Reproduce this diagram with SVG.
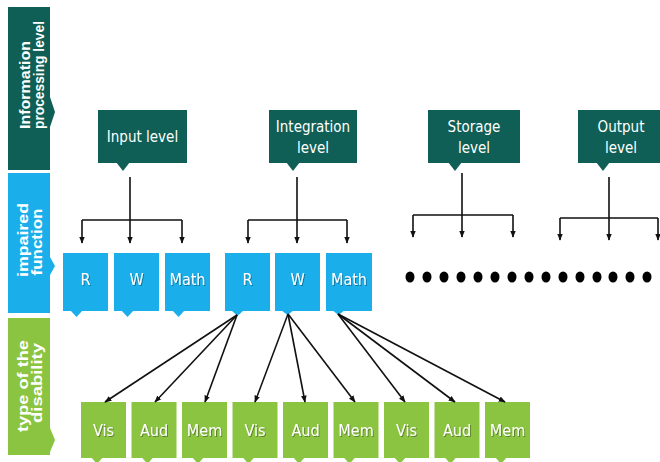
<svg xmlns="http://www.w3.org/2000/svg" width="660" height="462" viewBox="0 0 660 462">
<defs>
<marker id="ah" viewBox="0 0 10 10" refX="9" refY="5" markerWidth="7" markerHeight="7" markerUnits="userSpaceOnUse" orient="auto">
<path d="M0,1 L10,5 L0,9 Z" fill="#111"/>
</marker>
<filter id="sh" x="-20%" y="-20%" width="140%" height="140%">
<feDropShadow dx="1" dy="1" stdDeviation="0.6" flood-color="#000" flood-opacity="0.35"/>
</filter>
<style>
.teal{fill:#0f5f56}
.blue{fill:#1aafeb}
.green{fill:#8bc441}
.side{font-family:"Liberation Sans",Arial,sans-serif;font-weight:bold;font-size:15px;fill:#fff}
.lbl{font-family:"DejaVu Sans Condensed","DejaVu Sans",sans-serif;font-stretch:condensed;font-size:15px;fill:#fff;text-anchor:middle}
.big{font-size:16px}
.sl{filter:url(#sh)}
.con line,.con path{stroke:#111;stroke-width:1.6;fill:none}
.arr{marker-end:url(#ah)}
</style>
</defs>
<rect width="660" height="462" fill="#fff"/>

<!-- left side bars -->
<g id="bar-processing">
<path class="teal" d="M8,7 H50 V97 L55,112 L50,127 V170 H8 Z"/>
<text class="side" transform="translate(30,129) rotate(-90)" textLength="88" lengthAdjust="spacingAndGlyphs">Information</text>
<text class="side" transform="translate(44,129) rotate(-90)" textLength="108" lengthAdjust="spacingAndGlyphs">processing level</text>
</g>
<g id="bar-impaired">
<path class="blue" d="M8,173 H50 V257 L55,266 L50,275 V313 H8 Z"/>
<text class="side" text-anchor="middle" transform="translate(28,240) rotate(-90)" textLength="74" lengthAdjust="spacingAndGlyphs">impaired</text>
<text class="side" text-anchor="middle" transform="translate(42,242) rotate(-90)" textLength="67" lengthAdjust="spacingAndGlyphs">function</text>
</g>
<g id="bar-type">
<path class="green" d="M8,318 H50 V428 L55,440 L50,452 V455 H8 Z"/>
<text class="side" text-anchor="middle" transform="translate(28,386) rotate(-90)" textLength="92" lengthAdjust="spacingAndGlyphs">type of the</text>
<text class="side" text-anchor="middle" transform="translate(42,383) rotate(-90)" textLength="80" lengthAdjust="spacingAndGlyphs">disability</text>
</g>

<!-- level nodes -->
<g id="input-level">
<rect class="teal" x="98" y="110" width="89" height="53"/>
<polygon class="teal" points="116,162 130,162 123,171"/>
<text class="lbl" x="142.5" y="142">Input level</text>
</g>
<g id="integration-level">
<rect class="teal" x="269" y="110" width="88" height="53"/>
<polygon class="teal" points="286,162 300,162 293,171"/>
<text class="lbl" x="313" y="132">Integration</text>
<text class="lbl" x="313" y="153">level</text>
</g>
<g id="storage-level">
<rect class="teal" x="428" y="110" width="92" height="53"/>
<polygon class="teal" points="448,162 462,162 455,171"/>
<text class="lbl" x="474" y="132">Storage</text>
<text class="lbl" x="474" y="153">level</text>
</g>
<g id="output-level">
<rect class="teal" x="578" y="110" width="86" height="53"/>
<polygon class="teal" points="596,162 610,162 603,171"/>
<text class="lbl" x="621" y="132">Output</text>
<text class="lbl" x="621" y="153">level</text>
</g>

<!-- impaired function nodes -->
<g id="R1"><rect class="blue" x="63" y="253" width="45" height="58"/><polygon class="blue" points="70,310 83,310 76.5,317"/><text class="lbl big sl" x="85.5" y="285">R</text></g>
<g id="W1"><rect class="blue" x="114" y="253" width="45" height="58"/><polygon class="blue" points="121,310 134,310 127.5,317"/><text class="lbl big sl" x="136.5" y="285">W</text></g>
<g id="Math1"><rect class="blue" x="165" y="253" width="45" height="58"/><polygon class="blue" points="172,310 185,310 178.5,317"/><text class="lbl big sl" x="187.5" y="285">Math</text></g>
<g id="R2"><rect class="blue" x="225" y="253" width="45" height="58"/><polygon class="blue" points="231,310 244,310 237.5,316"/><text class="lbl big sl" x="247.5" y="285">R</text></g>
<g id="W2"><rect class="blue" x="275" y="253" width="45" height="58"/><polygon class="blue" points="281,310 294,310 287.5,315"/><text class="lbl big sl" x="297.5" y="285">W</text></g>
<g id="Math2"><rect class="blue" x="326" y="253" width="46" height="58"/><polygon class="blue" points="332,310 345,310 338.5,315"/><text class="lbl big sl" x="349" y="285">Math</text></g>

<!-- disability type nodes -->
<g id="Vis1"><rect class="green" x="81" y="402" width="45" height="56"/><polygon class="green" points="91,457 103,457 97,464"/><text class="lbl big sl" x="103.5" y="436">Vis</text></g>
<g id="Aud1"><rect class="green" x="131.5" y="402" width="45" height="56"/><polygon class="green" points="141.5,457 153.5,457 147.5,464"/><text class="lbl big sl" x="154" y="436">Aud</text></g>
<g id="Mem1"><rect class="green" x="182" y="402" width="45" height="56"/><polygon class="green" points="192,457 204,457 198,464"/><text class="lbl big sl" x="204.5" y="436">Mem</text></g>
<g id="Vis2"><rect class="green" x="232.5" y="402" width="45" height="56"/><polygon class="green" points="242.5,457 254.5,457 248.5,464"/><text class="lbl big sl" x="255" y="436">Vis</text></g>
<g id="Aud2"><rect class="green" x="283" y="402" width="45" height="56"/><polygon class="green" points="293,457 305,457 299,464"/><text class="lbl big sl" x="305.5" y="436">Aud</text></g>
<g id="Mem2"><rect class="green" x="333.5" y="402" width="45" height="56"/><polygon class="green" points="343.5,457 355.5,457 349.5,464"/><text class="lbl big sl" x="356" y="436">Mem</text></g>
<g id="Vis3"><rect class="green" x="384" y="402" width="45" height="56"/><polygon class="green" points="394,457 406,457 400,464"/><text class="lbl big sl" x="406.5" y="436">Vis</text></g>
<g id="Aud3"><rect class="green" x="434.5" y="402" width="45" height="56"/><polygon class="green" points="444.5,457 456.5,457 450.5,464"/><text class="lbl big sl" x="457" y="436">Aud</text></g>
<g id="Mem3"><rect class="green" x="485" y="402" width="45" height="56"/><polygon class="green" points="495,457 507,457 501,464"/><text class="lbl big sl" x="507.5" y="436">Mem</text></g>

<!-- continuation dots -->
<g id="dots" fill="#000">
<ellipse cx="410" cy="277" rx="4.5" ry="5.5"/><ellipse cx="427" cy="277" rx="4.5" ry="5.5"/><ellipse cx="444" cy="277" rx="4.5" ry="5.5"/><ellipse cx="461" cy="277" rx="4.5" ry="5.5"/><ellipse cx="478" cy="277" rx="4.5" ry="5.5"/>
<ellipse cx="495" cy="277" rx="4.5" ry="5.5"/><ellipse cx="512" cy="277" rx="4.5" ry="5.5"/><ellipse cx="529" cy="277" rx="4.5" ry="5.5"/><ellipse cx="546" cy="277" rx="4.5" ry="5.5"/><ellipse cx="563" cy="277" rx="4.5" ry="5.5"/>
<ellipse cx="580" cy="277" rx="4.5" ry="5.5"/><ellipse cx="597" cy="277" rx="4.5" ry="5.5"/><ellipse cx="613" cy="277" rx="4.5" ry="5.5"/><ellipse cx="630" cy="277" rx="4.5" ry="5.5"/><ellipse cx="647" cy="277" rx="4.5" ry="5.5"/>
</g>

<!-- connectors -->
<g id="connectors" class="con">
<path d="M130,177 V220 M82,220 H182"/>
<line class="arr" x1="82" y1="220" x2="82" y2="243"/>
<line class="arr" x1="130" y1="220" x2="130" y2="243"/>
<line class="arr" x1="182" y1="220" x2="182" y2="243"/>

<path d="M297,177 V220 M248,220 H347"/>
<line class="arr" x1="248" y1="220" x2="248" y2="243"/>
<line class="arr" x1="297" y1="220" x2="297" y2="243"/>
<line class="arr" x1="347" y1="220" x2="347" y2="243"/>

<path d="M462,173 V215 M413,215 H513"/>
<line class="arr" x1="413" y1="215" x2="413" y2="237"/>
<line class="arr" x1="462" y1="215" x2="462" y2="237"/>
<line class="arr" x1="513" y1="215" x2="513" y2="237"/>

<path d="M609,177 V218 M560,218 H658"/>
<line class="arr" x1="560" y1="218" x2="560" y2="240"/>
<line class="arr" x1="609" y1="218" x2="609" y2="240"/>
<line class="arr" x1="658" y1="218" x2="658" y2="240"/>

<line class="arr" x1="237" y1="315" x2="105" y2="402"/>
<line class="arr" x1="237" y1="315" x2="155" y2="402"/>
<line class="arr" x1="237" y1="315" x2="205" y2="402"/>
<line class="arr" x1="288" y1="314" x2="255" y2="402"/>
<line class="arr" x1="288" y1="314" x2="305" y2="402"/>
<line class="arr" x1="288" y1="314" x2="355" y2="402"/>
<line class="arr" x1="338" y1="314" x2="405" y2="402"/>
<line class="arr" x1="338" y1="314" x2="455" y2="402"/>
<line class="arr" x1="338" y1="314" x2="505" y2="402"/>
</g>
</svg>
